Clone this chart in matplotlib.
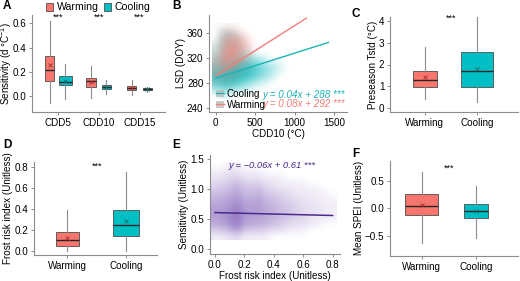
import numpy as np
import matplotlib
matplotlib.use("Agg")
import matplotlib.pyplot as plt
from matplotlib.colors import to_rgb
from matplotlib.patches import Patch
from matplotlib.lines import Line2D

plt.rcParams['font.family'] = ['Liberation Sans', 'DejaVu Sans']
plt.rcParams['mathtext.fontset'] = 'custom'
plt.rcParams['mathtext.rm'] = 'Liberation Sans'
plt.rcParams['mathtext.it'] = 'Liberation Sans:italic'

# ---------------- data ----------------
groups = ['Warming', 'Cooling']
cdd_cats = ['CDD5', 'CDD10', 'CDD15']

# Panel A: sensitivity box stats per CDD threshold
a_warm_lo = [-0.055, -0.013, 0.014]
a_warm_q1 = [0.124, 0.078, 0.050]
a_warm_med = [0.220, 0.122, 0.070]
a_warm_q3 = [0.330, 0.152, 0.083]
a_warm_hi = [0.620, 0.249, 0.138]
a_warm_mean = [0.257, 0.120, 0.068]
a_cool_lo = [-0.019, 0.022, 0.036]
a_cool_q1 = [0.089, 0.061, 0.050]
a_cool_med = [0.116, 0.075, 0.057]
a_cool_q3 = [0.166, 0.091, 0.064]
a_cool_hi = [0.270, 0.130, 0.078]
a_cool_mean = [0.122, 0.077, 0.057]

# Panel B: regression lines and point-density grids (LSD vs CDD10)
b_cool_slope, b_cool_icpt = 0.04, 288
b_warm_slope, b_warm_icpt = 0.08, 292
b_cool_xrange = [0, 1430]
b_warm_xrange = [0, 1150]
b_grid_x = [0, 100, 200, 300, 400, 500, 600, 700, 800, 900]
b_grid_y = [370, 360, 350, 340, 330, 320, 310, 300, 290, 280, 270, 260]
b_cool_density = [
    [0, 0, 0, 0, 0, 0, 0, 0, 0, 0],
    [0, .15, .15, 0, 0, 0, 0, 0, 0, 0],
    [0, .30, .30, .10, 0, 0, 0, 0, 0, 0],
    [.05, .35, .35, .15, 0, 0, 0, 0, 0, 0],
    [.10, .35, .35, .25, .05, 0, 0, 0, 0, 0],
    [.20, .45, .50, .45, .30, .15, .05, 0, 0, 0],
    [.40, .75, .85, .80, .65, .45, .25, .10, .05, 0],
    [.65, .95, 1.0, .95, .85, .60, .35, .15, .05, 0],
    [.75, 1.0, 1.0, .90, .70, .45, .20, .10, 0, 0],
    [.50, .80, .70, .50, .30, .10, .05, 0, 0, 0],
    [.15, .30, .20, .10, .05, 0, 0, 0, 0, 0],
    [0, .05, 0, 0, 0, 0, 0, 0, 0, 0],
]
b_warm_density = [
    [0, .05, .05, 0, 0, 0, 0, 0, 0, 0],
    [0, .30, .35, .20, 0, 0, 0, 0, 0, 0],
    [0, .55, .70, .55, .15, 0, 0, 0, 0, 0],
    [.05, .70, .90, .75, .30, 0, 0, 0, 0, 0],
    [.10, .80, 1.0, .75, .30, 0, 0, 0, 0, 0],
    [.25, .90, 1.0, .65, .20, 0, 0, 0, 0, 0],
    [.35, .80, .75, .40, .10, 0, 0, 0, 0, 0],
    [.30, .45, .35, .15, .05, 0, 0, 0, 0, 0],
    [.15, .25, .15, .05, 0, 0, 0, 0, 0, 0],
    [.05, .10, .05, 0, 0, 0, 0, 0, 0, 0],
    [0, 0, 0, 0, 0, 0, 0, 0, 0, 0],
    [0, 0, 0, 0, 0, 0, 0, 0, 0, 0],
]

# Panel C: preseason Tstd
c_lo = [0.43, 0.30]
c_q1 = [0.96, 0.99]
c_med = [1.29, 1.69]
c_q3 = [1.70, 2.56]
c_hi = [2.81, 4.18]
c_mean = [1.41, 1.79]

# Panel D: frost risk index
d_lo = [0.0, 0.0]
d_q1 = [0.05, 0.146]
d_med = [0.102, 0.251]
d_q3 = [0.18, 0.388]
d_hi = [0.388, 0.747]
d_mean = [0.127, 0.285]

# Panel E: sensitivity vs frost risk index
e_slope, e_icpt = -0.06, 0.61
e_xrange = [0, 0.8]
e_grid_x = [0.00, 0.05, 0.10, 0.15, 0.20, 0.25, 0.30, 0.35, 0.40, 0.45,
            0.50, 0.55, 0.60, 0.65, 0.70, 0.75, 0.80]
e_grid_y = [1.4, 1.3, 1.2, 1.1, 1.0, 0.9, 0.8, 0.7, 0.6, 0.5, 0.4, 0.3, 0.2]
e_density = [
    [0, 0, .05, .05, 0, 0, 0, 0, 0, 0, 0, 0, 0, 0, 0, 0, 0],
    [.05, .05, .10, .10, .05, .05, .05, 0, 0, 0, 0, 0, 0, 0, 0, 0, 0],
    [.10, .10, .15, .20, .10, .10, .10, .05, .05, .05, 0, 0, 0, 0, 0, 0, 0],
    [.15, .20, .25, .35, .20, .20, .20, .10, .10, .05, .05, .05, .05, 0, 0, 0, 0],
    [.25, .30, .35, .50, .30, .30, .35, .20, .15, .10, .10, .05, .05, .05, .05, 0, 0],
    [.35, .40, .45, .60, .40, .40, .45, .30, .25, .20, .15, .10, .10, .05, .05, .05, 0],
    [.45, .50, .55, .75, .50, .50, .55, .40, .35, .25, .20, .15, .10, .10, .05, .05, .05],
    [.55, .60, .65, .85, .60, .55, .60, .45, .40, .30, .25, .20, .15, .10, .10, .05, .05],
    [.60, .65, .75, .95, .65, .60, .60, .50, .45, .35, .30, .20, .15, .10, .10, .05, .05],
    [.55, .60, .75, 1.0, .60, .55, .55, .45, .40, .30, .25, .20, .15, .10, .05, .05, .05],
    [.45, .50, .65, .90, .50, .45, .45, .35, .30, .20, .15, .10, .10, .05, .05, 0, 0],
    [.20, .25, .35, .55, .25, .20, .20, .15, .10, .10, .05, .05, .05, 0, 0, 0, 0],
    [.05, .05, .10, .15, .05, .05, .05, .05, 0, 0, 0, 0, 0, 0, 0, 0, 0],
]

# Panel F: mean SPEI
f_lo = [-0.62, -0.54]
f_q1 = [-0.113, -0.18]
f_med = [0.048, -0.042]
f_q3 = [0.26, 0.077]
f_hi = [0.66, 0.41]
f_mean = [0.065, -0.048]

# ---------------- style ----------------
WARM = '#F8766D'
COOL = '#00BFC4'
PURPLE = '#6237A8'
PURPLE_LINE = '#4A2A8C'
FS = 7.1
W, H = 520, 281

fig = plt.figure(figsize=(W / 100, H / 100), dpi=100)


def ax_at(l, t, r, b):
    return fig.add_axes([l / W, 1 - b / H, (r - l) / W, (b - t) / H])


def style(ax):
    for s in ['top', 'right']:
        ax.spines[s].set_visible(False)
    for s in ['left', 'bottom']:
        ax.spines[s].set_color('#8c8c8c')
        ax.spines[s].set_linewidth(0.8)
    ax.tick_params(colors='#8c8c8c', labelcolor='black', labelsize=FS,
                   length=2.5, width=0.7, pad=1.5)


def draw_boxes(ax, pos, lo, q1, med, q3, hi, mean, colors, widths):
    for i in range(len(pos)):
        st = [dict(whislo=lo[i], q1=q1[i], med=med[i], q3=q3[i],
                   whishi=hi[i], mean=mean[i], fliers=[])]
        ax.bxp(st, positions=[pos[i]], widths=[widths[i]], patch_artist=True,
               showfliers=False, showcaps=False, showmeans=True,
               boxprops=dict(facecolor=colors[i], edgecolor='#4d4d4d', linewidth=0.6),
               whiskerprops=dict(color='#8c8c8c', linewidth=0.8),
               medianprops=dict(color='#262626', linewidth=1.0),
               meanprops=dict(marker='x', markeredgecolor='#9e2a2a' if colors[i] == WARM else '#146b6b',
                              markersize=2.5, markeredgewidth=0.6),
               manage_ticks=False)


def density(ax, gx, gy, grid, color, amax, gamma=0.7):
    g = np.clip(np.array(grid, dtype=float), 0, 1)
    rgba = np.zeros(g.shape + (4,))
    rgba[..., :3] = to_rgb(color)
    rgba[..., 3] = amax * g ** gamma
    dx = abs(gx[1] - gx[0])
    dy = abs(gy[0] - gy[1])
    ax.imshow(rgba, origin='upper', aspect='auto', interpolation='bicubic',
              extent=[gx[0] - dx / 2, gx[-1] + dx / 2, gy[-1] - dy / 2, gy[0] + dy / 2],
              zorder=1)


def panel_label(ch, x, y):
    fig.text(x / W, 1 - y / H, ch, fontsize=8.5, fontweight='bold', ha='left', va='center')


# ---------------- Panel A ----------------
axA = ax_at(32.3, 15, 165, 112)
style(axA)
xpos = np.arange(1, len(cdd_cats) + 1)
off = 0.19
draw_boxes(axA, xpos - off, a_warm_lo, a_warm_q1, a_warm_med, a_warm_q3, a_warm_hi,
           a_warm_mean, [WARM] * 3, [0.22, 0.24, 0.22])
draw_boxes(axA, xpos + off, a_cool_lo, a_cool_q1, a_cool_med, a_cool_q3, a_cool_hi,
           a_cool_mean, [COOL] * 3, [0.30, 0.22, 0.22])
axA.set_xlim(0.38, 3.62)
axA.set_ylim(-0.13, 0.67)
axA.set_xticks(xpos)
axA.set_xticklabels(cdd_cats)
axA.set_yticks([0.0, 0.2, 0.4, 0.6])
axA.set_ylabel('Sensitivity (d °C$^{-1}$)', fontsize=FS)
axA.yaxis.set_label_coords(-0.135, 0.5)
for x in xpos:
    axA.text(x, 0.655, '***', ha='center', va='center', fontsize=FS - 0.5)
fig.legend(handles=[Patch(facecolor=WARM, edgecolor='#4d4d4d', linewidth=0.6),
                    Patch(facecolor=COOL, edgecolor='#4d4d4d', linewidth=0.6)],
           labels=groups, loc='center', bbox_to_anchor=(98 / W, 1 - 7.5 / H), ncol=2,
           frameon=False, fontsize=FS + 0.5, handlelength=0.7, handleheight=0.7,
           handletextpad=0.3, columnspacing=0.5, borderpad=0, borderaxespad=0)

# ---------------- Panel B ----------------
axB = ax_at(209, 15, 347, 112)
style(axB)
density(axB, b_grid_x, b_grid_y, b_cool_density, '#1CBEC1', 1.0, gamma=0.55)
density(axB, b_grid_x, b_grid_y, b_warm_density, '#F7857C', 0.8)
xc = np.array(b_cool_xrange, dtype=float)
xw = np.array(b_warm_xrange, dtype=float)
axB.plot(xc, b_cool_slope * xc + b_cool_icpt, color='#1DB3B6', lw=1.0, zorder=3)
axB.plot(xw, b_warm_slope * xw + b_warm_icpt, color='#EE7F77', lw=1.0, zorder=3)
axB.set_xlim(-85, 1665)
axB.set_ylim(234, 389)
axB.set_xticks([0, 500, 1000, 1500])
axB.set_yticks([240, 280, 320, 360])
axB.set_xlabel('CDD10 (°C)', fontsize=FS, labelpad=1)
axB.set_ylabel('LSD (DOY)', fontsize=FS, labelpad=1)
hc = (Patch(facecolor='#bdbdbd', alpha=0.8), Line2D([], [], color='#1DB3B6', lw=1.0))
hw = (Patch(facecolor='#bdbdbd', alpha=0.8), Line2D([], [], color='#EE7F77', lw=1.0))
axB.legend([hc, hw], ['Cooling', 'Warming'], loc='lower left', bbox_to_anchor=(0.05, 0.02),
           frameon=False, fontsize=FS, handlelength=0.8, handleheight=0.8,
           handletextpad=0.3, labelspacing=0.1, borderpad=0, borderaxespad=0)
axB.text(0.39, 0.175, 'y = 0.04x + 288 ***', transform=axB.transAxes, color='#1DB3B6',
         fontsize=FS, style='italic', va='center', ha='left')
axB.text(0.39, 0.08, 'y = 0.08x + 292 ***', transform=axB.transAxes, color='#EE7F77',
         fontsize=FS, style='italic', va='center', ha='left')

# ---------------- Panel C ----------------
axC = ax_at(390, 17, 518, 112)
style(axC)
draw_boxes(axC, [1, 2], c_lo, c_q1, c_med, c_q3, c_hi, c_mean, [WARM, COOL], [0.46, 0.63])
axC.set_xlim(0.33, 2.79)
axC.set_ylim(-0.17, 4.17)
axC.set_xticks([1, 2])
axC.set_xticklabels(groups)
axC.set_yticks([0, 1, 2, 3, 4])
axC.set_ylabel('Preseason Tstd (°C)', fontsize=FS, labelpad=1)
axC.text(1.5, 4.12, '***', ha='center', va='center', fontsize=FS - 0.5)

# ---------------- Panel D ----------------
axD = ax_at(34, 161.7, 157, 255)
style(axD)
draw_boxes(axD, [1, 2], d_lo, d_q1, d_med, d_q3, d_hi, d_mean, [WARM, COOL], [0.40, 0.43])
axD.set_xlim(0.43, 2.53)
axD.set_ylim(-0.037, 0.847)
axD.set_xticks([1, 2])
axD.set_xticklabels(groups)
axD.set_yticks([0.0, 0.2, 0.4, 0.6, 0.8])
axD.set_ylabel('Frost risk index (Unitless)', fontsize=FS, labelpad=1)
axD.text(1.5, 0.80, '***', ha='center', va='center', fontsize=FS - 0.5)

# ---------------- Panel E ----------------
axE = ax_at(210, 155, 340, 254)
style(axE)
density(axE, e_grid_x, e_grid_y, e_density, PURPLE, 0.7)
xe = np.array(e_xrange, dtype=float)
axE.plot(xe, e_slope * xe + e_icpt, color=PURPLE_LINE, lw=1.1, zorder=3)
axE.set_xlim(-0.034, 0.85)
axE.set_ylim(-0.08, 1.57)
axE.set_xticks([0.0, 0.2, 0.4, 0.6, 0.8])
axE.set_yticks([0.0, 0.5, 1.0, 1.5])
axE.set_xlabel('Frost risk index (Unitless)', fontsize=FS, labelpad=1)
axE.set_ylabel('Sensitivity (Unitless)', fontsize=FS, labelpad=1)
axE.text(0.39, 1.40, 'y = −0.06x + 0.61 ***', color=PURPLE_LINE, fontsize=FS - 0.3,
         style='italic', ha='center', va='center')

# ---------------- Panel F ----------------
axF = ax_at(390, 160.7, 518, 256)
style(axF)
draw_boxes(axF, [1, 2], f_lo, f_q1, f_med, f_q3, f_hi, f_mean, [WARM, COOL], [0.61, 0.44])
axF.set_xlim(0.41, 2.78)
axF.set_ylim(-0.857, 0.857)
axF.set_xticks([1, 2])
axF.set_xticklabels(groups)
axF.set_yticks([-0.5, 0.0, 0.5])
axF.set_ylabel('Mean SPEI (Unitless)', fontsize=FS, labelpad=1)
axF.text(1.5, 0.72, '***', ha='center', va='center', fontsize=FS - 0.5)

panel_label('A', 3, 6)
panel_label('B', 172, 6)
panel_label('C', 352, 14)
panel_label('D', 3, 145)
panel_label('E', 172, 145)
panel_label('F', 352, 154)

fig.savefig('out.png', dpi=100)
